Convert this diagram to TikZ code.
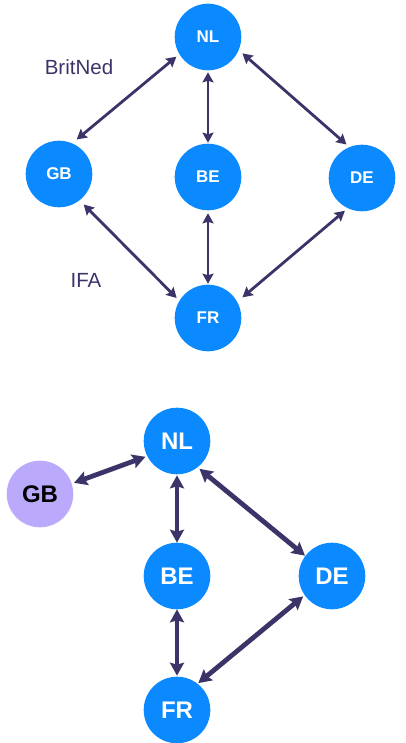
\documentclass[tikz,border=0pt]{standalone}
\usepackage{fontspec}
\setmainfont{Liberation Sans}
\usetikzlibrary{arrows.meta}
\definecolor{nodeblue}{HTML}{0B8AFF}
\definecolor{gblilac}{HTML}{BBA9FB}
\definecolor{linkcol}{HTML}{3A3468}
\tikzset{
  country/.style={circle, fill=nodeblue, minimum size=66.6pt, inner sep=0pt, outer sep=0pt,
    text=white, font=\bfseries\fontsize{17}{17}\selectfont},
  bigcountry/.style={country, font=\bfseries\fontsize{24}{24}\selectfont},
  other/.style={bigcountry, fill=gblilac, text=black},
  link/.style={draw=linkcol, line width=2.8pt,
    {Stealth[length=10pt,width=11pt,inset=1.5pt]}-{Stealth[length=10pt,width=11pt,inset=1.5pt]}},
  biglink/.style={draw=linkcol, line width=4.8pt,
    {Stealth[length=13pt,width=14pt,inset=2pt]}-{Stealth[length=13pt,width=14pt,inset=2pt]}},
  cable/.style={text=linkcol, font=\fontsize{20.5}{20.5}\selectfont}
}
\begin{document}
\begin{tikzpicture}[x=1pt,y=-1pt]
  \useasboundingbox (0,0) rectangle (405,743);

  % meshed grid with the interconnectors named
  \node[country] (NL) at (208,37) {NL};
  \node[country] (GB) at (59,174) {GB};
  \node[country] (BE) at (208,177) {BE};
  \node[country] (DE) at (362,178) {DE};
  \node[country] (FR) at (208,318) {FR};
  \node[cable] (britned) at (79,67) {BritNed};
  \node[cable] (ifa) at (86,280) {IFA};

  \draw[link, shorten <=4pt, shorten >=6pt] (NL.211) -- (GB.67);
  \draw[link, shorten <=2pt, shorten >=1pt] (NL.south) -- (BE.north);
  \draw[link, shorten <=5pt, shorten >=4pt] (NL.-23) -- (DE.112);
  \draw[link, shorten <=6pt, shorten >=4pt] (GB.-52) -- (FR.149);
  \draw[link, shorten <=3pt, shorten >=1pt] (BE.south) -- (FR.north);
  \draw[link, shorten <=4pt, shorten >=7pt] (DE.245) -- (FR.29);

  % reduced grid with GB hanging off NL
  \node[bigcountry] (NL2) at (177,441) {NL};
  \node[other] (GB2) at (40,494) {GB};
  \node[bigcountry] (BE2) at (177,576) {BE};
  \node[bigcountry] (DE2) at (332,576) {DE};
  \node[bigcountry] (FR2) at (177,710) {FR};

  \draw[biglink, shorten <=2.5pt, shorten >=2pt] (GB2.18) -- (NL2.207);
  \draw[biglink, shorten <=1pt, shorten >=0pt] (NL2.south) -- (BE2.north);
  \draw[biglink, shorten <=2.5pt, shorten >=0.5pt] (NL2.-52) -- (DE2.143);
  \draw[biglink, shorten <=2pt, shorten >=1pt] (DE2.215) -- (FR2.52);
  \draw[biglink, shorten <=0pt, shorten >=1pt] (BE2.south) -- (FR2.north);
\end{tikzpicture}
\end{document}
